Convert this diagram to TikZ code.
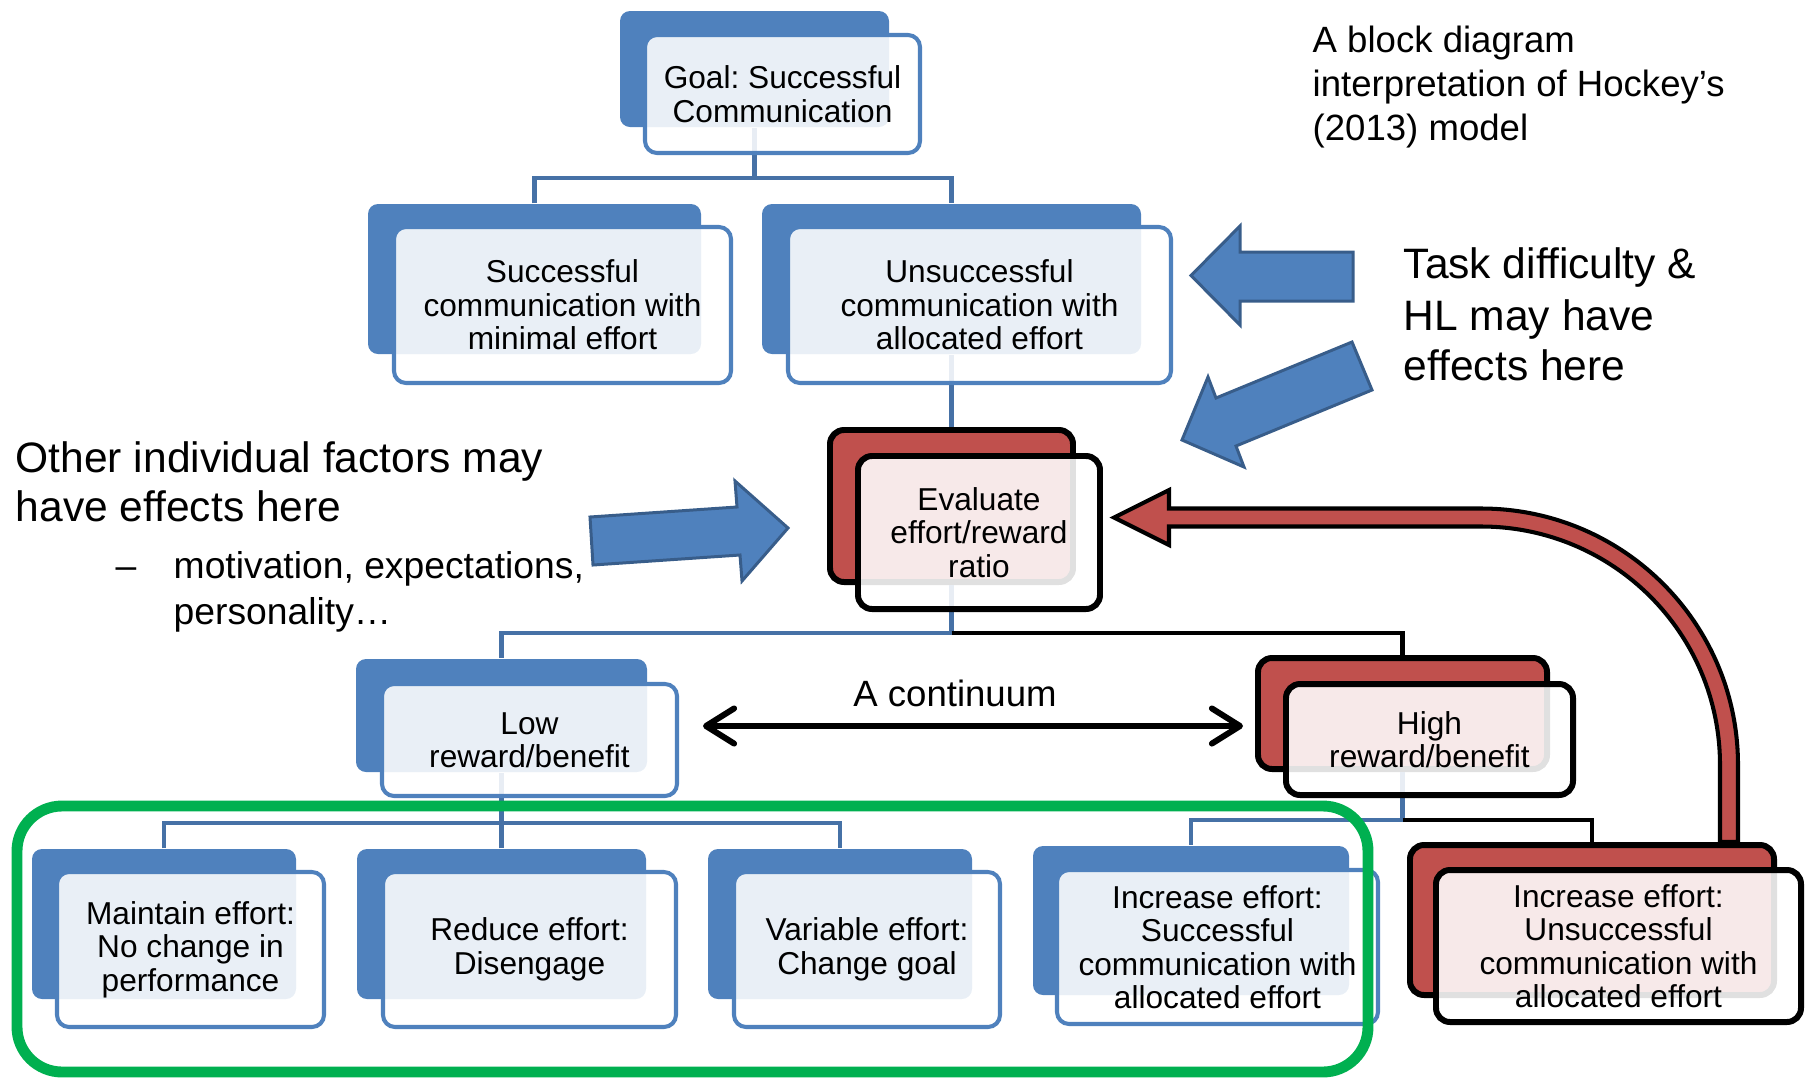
\documentclass[tikz,border=0pt]{standalone}
\usepackage{fontspec}
\setmainfont{Liberation Sans}
\usetikzlibrary{arrows.meta,fit}

\definecolor{cBlue}{HTML}{4F81BD}
\definecolor{cBlueEdge}{HTML}{385D8A}
\definecolor{cConn}{RGB}{70,113,166}
\definecolor{cRed}{HTML}{C0504D}
\definecolor{cGreen}{HTML}{00B050}

\newcommand\boxfont{\fontsize{9}{9.5}\selectfont}
\newcommand\titlefont{\fontsize{10.4}{12.5}\selectfont}
\newcommand\notefont{\fontsize{12.1}{14.5}\selectfont}
\newcommand\otherfont{\fontsize{12.1}{14.2}\selectfont}
\newcommand\subfont{\fontsize{10.6}{12.8}\selectfont}
\newcommand\contfont{\fontsize{10.4}{12.5}\selectfont}

\tikzset{
  bback/.style={fill=cBlue, rounded corners=0.1cm, inner sep=0pt},
  bfront/.style={draw=cBlue, line width=1.15pt, fill=white, fill opacity=0.88,
    rounded corners=0.12cm, inner sep=0pt},
  rback/.style={draw=black, line width=1.7pt, fill=cRed, rounded corners=0.14cm, inner sep=0pt},
  rfront/.style={draw=black, line width=1.7pt, fill=white, fill opacity=0.88,
    rounded corners=0.14cm, inner sep=0pt},
  boxtext/.style={inner sep=0pt, align=center, font=\boxfont},
  conn/.style={draw=cConn, line width=1.3pt},
  connk/.style={draw=black, line width=1.3pt},
  blockarrow/.style={fill=cBlue, draw=cBlueEdge, line width=0.85pt, line join=miter},
  redarrow/.style={fill=cRed, draw=black, line width=1.15pt, line join=miter},
  cont/.style={line width=1.7pt,
    {Straight Barb[length=8pt,width=10pt,round]}-{Straight Barb[length=8pt,width=10pt,round]}},
  lbl/.style={inner sep=0pt, anchor=base west},
}

\begin{document}
\frenchspacing
\begin{tikzpicture}[x=0.01cm, y=-0.01cm]
\useasboundingbox (0,0) rectangle (1808,1078);

% back plates
\node[bback, fit={(620,11)(889,127)}] (g-b) {};
\node[bback, fit={(368,204)(701,354)}] (s1-b) {};
\node[bback, fit={(762,204)(1141,354)}] (s2-b) {};
\node[rback, fit={(830,430)(1073,582)}] (e-b) {};
\node[bback, fit={(356,659)(647,772)}] (lo-b) {};
\node[rback, fit={(1258,658)(1547,769)}] (hi-b) {};
\node[bback, fit={(32,849)(296,999)}] (m1-b) {};
\node[bback, fit={(357,849)(646,999)}] (m2-b) {};
\node[bback, fit={(708,849)(972,999)}] (m3-b) {};
\node[bback, fit={(1033,846)(1349,995)}] (m4-b) {};
\node[rback, fit={(1410,845)(1774,995)}] (m5-b) {};

% junction levels of the tree connectors
\coordinate (h1) at (754.5,178);
\coordinate (h3) at (951.5,633);
\coordinate (h4) at (501.5,823);
\coordinate (h5) at (1402.5,820);

% tree connectors
\draw[conn] (g-b.south) -- (g-b.south |- h1);
\draw[conn] (s1-b.north) |- (h1) -| (s2-b.north);
\draw[conn] (s2-b.south) -- (e-b.north);
\draw[conn] (e-b.south) -- (e-b.south |- h3) -| (lo-b.north);
\draw[connk] (e-b.south |- h3) -| (hi-b.north);
\draw[conn] (lo-b.south) -- (lo-b.south |- h4);
\draw[conn] (m1-b.north) |- (h4) -| (m3-b.north);
\draw[conn] (m2-b.north) -- (m2-b.north |- h4);
\draw[conn] (hi-b.south) -- (hi-b.south |- h5) -| (m4-b.north);
\draw[connk] (hi-b.south |- h5) -| (m5-b.north);

% front plates
\node[bfront, fit={(645,35)(920,153)}] (g) {};
\node[bfront, fit={(394,227)(731,383)}] (s1) {};
\node[bfront, fit={(788,227)(1171,383)}] (s2) {};
\node[rfront, fit={(858,456)(1100,609)}] (e) {};
\node[bfront, fit={(382,684)(677,796)}] (lo) {};
\node[rfront, fit={(1286,684)(1573,795)}] (hi) {};
\node[bfront, fit={(57,872)(324,1027)}] (m1) {};
\node[bfront, fit={(383,872)(676,1027)}] (m2) {};
\node[bfront, fit={(734,872)(1000,1027)}] (m3) {};
\node[bfront, fit={(1057,870)(1378,1024)}] (m4) {};
\node[rfront, fit={(1436,870)(1801,1022)}] (m5) {};

% plate labels
\node[boxtext] (g-t) at (g.center) {Goal: Successful\\Communication};
\node[boxtext] (s1-t) at (s1.center) {Successful\\communication with\\minimal effort};
\node[boxtext] (s2-t) at (s2.center) {Unsuccessful\\communication with\\allocated effort};
\node[boxtext] (e-t) at (e.center) {Evaluate\\effort/reward\\ratio};
\node[boxtext] (lo-t) at (lo.center) {Low\\reward/benefit};
\node[boxtext] (hi-t) at (hi.center) {High\\reward/benefit};
\node[boxtext] (m1-t) at (m1.center) {Maintain effort:\\No change in\\performance};
\node[boxtext] (m2-t) at (m2.center) {Reduce effort:\\Disengage};
\node[boxtext] (m3-t) at (m3.center) {Variable effort:\\Change goal};
\node[boxtext] (m4-t) at (m4.center) {Increase effort:\\Successful\\communication with\\allocated effort};
\node[boxtext] (m5-t) at (m5.center) {Increase effort:\\Unsuccessful\\communication with\\allocated effort};

% group frame around the low-reward outcomes
\node[draw=cGreen, line width=3.1pt, rounded corners=0.45cm, inner sep=0pt,
      fit={(17,806)(1368,1072)}] (grp) {};

% continuum between low and high reward
\coordinate (ca) at (703,726);
\coordinate (cb) at (1243,726);
\draw[cont] (ca) -- (cb);
\node[inner sep=0pt, anchor=base, font=\contfont] (cl) at (955,706) {A continuum};

% feedback arrow from the unsuccessful outcome back to the evaluation
\draw[redarrow] (1738,842) -- (1738,765)
  .. controls (1738,623) and (1623,508.5) .. (1481,508.5)
  -- (1169,508.5) -- (1169,490) -- (1114,517.5) -- (1169,545) -- (1169,526.5)
  -- (1481,526.5)
  .. controls (1613,526.5) and (1720,633) .. (1720,765)
  -- (1720,842) -- cycle;

% influence arrows
\draw[blockarrow] (1353,252) -- (1240,252) -- (1240,226) -- (1191,275.5)
  -- (1240,325) -- (1240,301) -- (1353,301) -- cycle;
\draw[blockarrow] (1352,342) -- (1216,398) -- (1208,377) -- (1182,440)
  -- (1244,467) -- (1236,446) -- (1372,390) -- cycle;
\draw[blockarrow] (590,517) -- (737,507) -- (735,481) -- (788,528)
  -- (742,581) -- (740,555) -- (593,565) -- cycle;

% captions
\node[lbl, font=\titlefont] (t1) at (1312,52) {A block diagram};
\node[lbl, font=\titlefont] (t2) at (1312,96) {interpretation of Hockey’s};
\node[lbl, font=\titlefont] (t3) at (1312,140) {(2013) model};

\node[lbl, font=\notefont] (n1) at (1403,278) {Task difficulty \&};
\node[lbl, font=\notefont] (n2) at (1403,330) {HL may have};
\node[lbl, font=\notefont] (n3) at (1403,380) {effects here};

\node[lbl, font=\otherfont] (o1) at (15,472) {Other individual factors may};
\node[lbl, font=\otherfont] (o2) at (15,521) {have effects here};
\node[lbl, font=\subfont] (o3) at (115,578) {–};
\node[lbl, font=\subfont] (o4) at (173,578) {motivation, expectations,};
\node[lbl, font=\subfont] (o5) at (173,624) {personality…};
\end{tikzpicture}
\end{document}
